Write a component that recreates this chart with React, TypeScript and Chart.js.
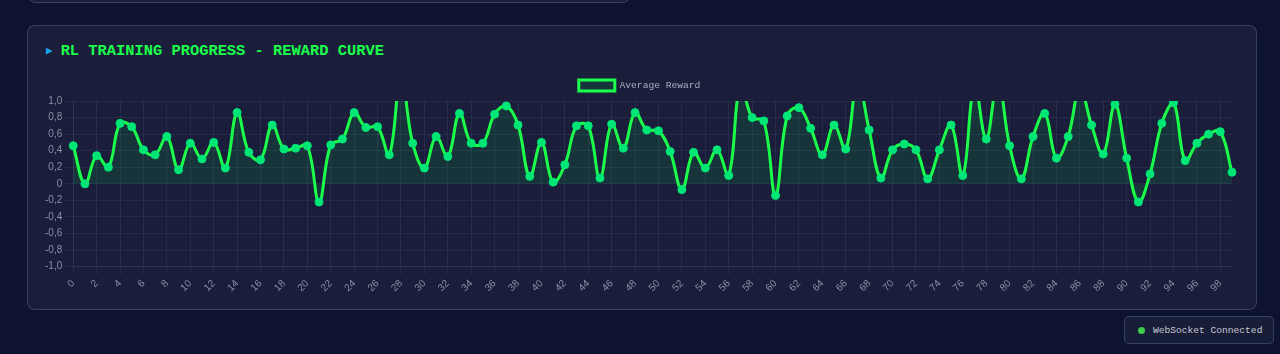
import React, { useEffect, useRef } from "react";
import { Chart, registerables } from "chart.js";

Chart.register(...registerables);

const episodes: string[] = Array.from({ length: 100 }, (_, i) => String(i));

const rewards: number[] = [
  0.46, 0.0, 0.34, 0.2, 0.73, 0.69, 0.41, 0.35, 0.57, 0.17,
  0.49, 0.3, 0.5, 0.19, 0.86, 0.38, 0.29, 0.71, 0.42, 0.43,
  0.46, -0.22, 0.47, 0.54, 0.86, 0.68, 0.69, 0.35, 1.3, 0.49,
  0.19, 0.57, 0.33, 0.85, 0.49, 0.49, 0.84, 0.94, 0.71, 0.09,
  0.5, 0.02, 0.23, 0.7, 0.7, 0.07, 0.72, 0.43, 0.86, 0.65,
  0.64, 0.39, -0.07, 0.38, 0.19, 0.41, 0.1, 1.2, 0.8, 0.76,
  -0.14, 0.82, 0.92, 0.67, 0.35, 0.71, 0.42, 1.25, 0.65, 0.07,
  0.41, 0.48, 0.41, 0.06, 0.41, 0.71, 0.1, 1.2, 0.54, 1.25,
  0.46, 0.06, 0.57, 0.85, 0.31, 0.57, 1.15, 0.71, 0.36, 0.96,
  0.31, -0.22, 0.12, 0.73, 0.98, 0.28, 0.49, 0.6, 0.63, 0.14,
];

const seriesLabel = "Average Reward";
const titleText = "RL TRAINING PROGRESS - REWARD CURVE";
const statusText = "WebSocket Connected";

function formatTick(v: number): string {
  if (Math.abs(v) < 1e-9) return "0";
  return v.toFixed(1).replace(".", ",");
}

export default function App() {
  const canvasRef = useRef<HTMLCanvasElement | null>(null);

  useEffect(() => {
    document.body.style.margin = "0";
    document.body.style.background = "#0e1430";
    if (!canvasRef.current) return;
    const chart = new Chart(canvasRef.current, {
      type: "line",
      data: {
        labels: episodes,
        datasets: [
          {
            label: seriesLabel,
            data: rewards,
            borderColor: "#1aff4a",
            backgroundColor: "rgba(0, 255, 65, 0.1)",
            borderWidth: 3,
            tension: 0.4,
            fill: "origin",
            pointRadius: 4,
            pointBackgroundColor: "#00e676",
            pointBorderColor: "#00e676",
            pointBorderWidth: 1,
          },
        ],
      },
      options: {
        animation: false,
        responsive: false,
        maintainAspectRatio: false,
        layout: { padding: { left: 0, right: 0, top: 0, bottom: 0 } },
        plugins: {
          legend: {
            display: true,
            position: "top",
            labels: {
              color: "#a8acc0",
              font: { family: "'Liberation Mono', 'Courier New', monospace", size: 9.6 },
              boxWidth: 36,
              boxHeight: 11,
              padding: 7,
            },
          },
          tooltip: { enabled: false },
        },
        scales: {
          x: {
            grid: { color: "rgba(110, 130, 190, 0.13)" },
            border: { color: "rgba(110, 130, 190, 0.13)" },
            ticks: {
              color: "#8a8fa8",
              font: { family: "'Liberation Sans', Arial, sans-serif", size: 10 },
              maxRotation: 45,
              minRotation: 45,
              autoSkip: true,
            },
          },
          y: {
            min: -1,
            max: 1,
            grid: { color: "rgba(110, 130, 190, 0.13)" },
            border: { color: "rgba(110, 130, 190, 0.13)" },
            ticks: {
              stepSize: 0.2,
              color: "#8a8fa8",
              font: { family: "'Liberation Sans', Arial, sans-serif", size: 10 },
              callback: (v: any) => formatTick(Number(v)),
            },
          },
        },
      },
    });
    return () => chart.destroy();
  }, []);

  return (
    <div
      style={{
        position: "relative",
        width: 1280,
        height: 354,
        overflow: "hidden",
        background: "#0e1430",
        fontFamily: "'Liberation Mono', 'Courier New', monospace",
      }}
    >
      <div
        style={{
          position: "absolute",
          left: 28,
          top: -12,
          width: 600,
          height: 13,
          border: "1px solid rgba(70, 90, 130, 0.6)",
          borderRadius: 8,
          background: "#1a1e3a",
        }}
      />
      <div
        style={{
          position: "absolute",
          left: 27,
          top: 25,
          width: 1228,
          height: 283,
          border: "1px solid rgba(70, 90, 130, 0.6)",
          borderRadius: 8,
          background: "#1a1e3a",
        }}
      />
      <div
        style={{
          position: "absolute",
          left: 46,
          top: 42,
          height: 18,
          lineHeight: "18px",
          fontSize: 15.4,
          fontWeight: "bold",
          color: "#1aff4a",
          whiteSpace: "nowrap",
        }}
      >
        <span style={{ color: "#1aa3e8", fontSize: 11, marginRight: 8, verticalAlign: "1px" }}>▶</span>
        {titleText}
      </div>
      <canvas
        ref={canvasRef}
        width={1195}
        height={224}
        style={{ position: "absolute", left: 42, top: 73, width: 1195, height: 224 }}
      />
      <div
        style={{
          position: "absolute",
          left: 1124,
          top: 316,
          width: 150,
          height: 28,
          border: "1px solid rgba(70, 90, 130, 0.6)",
          borderRadius: 5,
          background: "#181d38",
          boxSizing: "border-box",
          display: "flex",
          alignItems: "center",
          paddingLeft: 13,
          fontSize: 9.6,
          color: "#c8cad6",
          whiteSpace: "nowrap",
        }}
      >
        <span
          style={{
            display: "inline-block",
            width: 7,
            height: 7,
            borderRadius: "50%",
            background: "#3ccf4e",
            marginRight: 8,
          }}
        />
        {statusText}
      </div>
    </div>
  );
}
